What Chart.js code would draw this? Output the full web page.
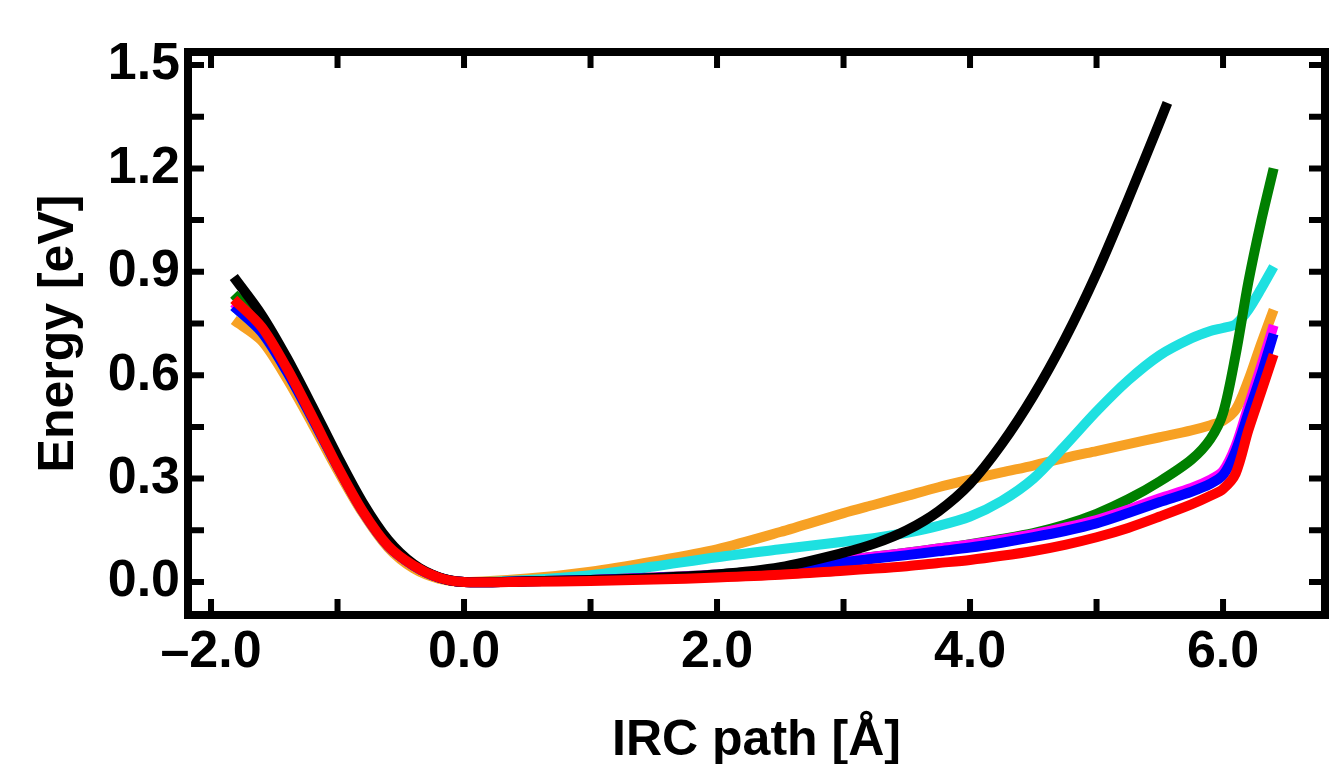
<!DOCTYPE html>
<html>
<head>
<meta charset="utf-8">
<title>IRC energy profile</title>
<script src="https://cdn.jsdelivr.net/npm/chart.js@4.4.1/dist/chart.umd.min.js"></script>
<style>
  body { margin: 0; background: #fff; }
  #wrap { width: 1330px; height: 764px; }
</style>
</head>
<body>
<div id="wrap"><canvas id="irc" width="1330" height="764"></canvas></div>
<script>
// IRC path positions [Å]
const ircX = [-1.82, -1.6, -1.4, -1.2, -1.0, -0.8, -0.6, -0.4, -0.2, 0,
  0.5, 1, 1.5, 2, 2.5, 3, 3.25, 3.5, 3.75, 4, 4.25, 4.5, 4.75, 5, 5.25, 5.5];
const tailX = [5.75, 5.9, 6.0, 6.1, 6.2, 6.3, 6.4];
const blackTailX = [5.56];

// energies [eV]
const redE = [0.82, 0.74, 0.62, 0.48, 0.335, 0.205, 0.105, 0.048, 0.013, 0,
  0.001, 0.003, 0.007, 0.013, 0.021, 0.033, 0.039, 0.046, 0.055, 0.064, 0.076, 0.09, 0.108, 0.13, 0.157, 0.19,
  0.225, 0.25, 0.27, 0.315, 0.44, 0.55, 0.66];
const blueE = [0.80, 0.725, 0.61, 0.475, 0.335, 0.205, 0.105, 0.048, 0.013, 0,
  0.002, 0.006, 0.012, 0.02, 0.035, 0.058, 0.068, 0.078, 0.089, 0.10, 0.114, 0.13, 0.148, 0.17, 0.2, 0.232,
  0.262, 0.285, 0.31, 0.38, 0.49, 0.6, 0.72];
const magentaE = [0.81, 0.73, 0.615, 0.478, 0.337, 0.206, 0.106, 0.048, 0.013, 0,
  0.002, 0.006, 0.013, 0.022, 0.038, 0.063, 0.074, 0.085, 0.097, 0.109, 0.123, 0.139, 0.158, 0.18, 0.21, 0.243,
  0.273, 0.297, 0.322, 0.395, 0.51, 0.625, 0.745];
const greenE = [0.835, 0.75, 0.625, 0.485, 0.342, 0.21, 0.108, 0.048, 0.013, 0,
  0.002, 0.006, 0.013, 0.022, 0.038, 0.063, 0.074, 0.085, 0.097, 0.11, 0.125, 0.142, 0.166, 0.198, 0.24, 0.292,
  0.355, 0.415, 0.49, 0.66, 0.87, 1.045, 1.2];
const cyanE = [0.80, 0.725, 0.61, 0.475, 0.335, 0.205, 0.105, 0.048, 0.013, 0,
  0.006, 0.02, 0.045, 0.072, 0.095, 0.117, 0.128, 0.143, 0.163, 0.19, 0.235, 0.30, 0.395, 0.495, 0.585, 0.658,
  0.707, 0.728, 0.737, 0.748, 0.79, 0.85, 0.915];
const orangeE = [0.76, 0.70, 0.59, 0.46, 0.325, 0.2, 0.1, 0.04, 0.01, 0,
  0.01, 0.03, 0.06, 0.095, 0.145, 0.2, 0.225, 0.25, 0.275, 0.297, 0.318, 0.338, 0.36, 0.38, 0.40, 0.42,
  0.44, 0.455, 0.468, 0.5, 0.585, 0.69, 0.79];
const blackE = [0.885, 0.775, 0.65, 0.51, 0.365, 0.23, 0.122, 0.052, 0.014, 0,
  0.002, 0.006, 0.012, 0.022, 0.043, 0.085, 0.112, 0.15, 0.205, 0.285, 0.40, 0.54, 0.705, 0.895, 1.11, 1.335,
  1.39];

// axis ticks
const xMajor = [-2, 0, 2, 4, 6];
const xLabels = ['\u20132.0', '0.0', '2.0', '4.0', '6.0'];
const xMinor = [-1, 1, 3, 5];
const yMajor = [0, 0.3, 0.6, 0.9, 1.2, 1.5];
const yLabels = ['0.0', '0.3', '0.6', '0.9', '1.2', '1.5'];
const yMinor = [0.15, 0.45, 0.75, 1.05, 1.35];

const FONT = "'Liberation Sans', Arial, Helvetica, sans-serif";

function pts(xs, es) {
    return xs.map((x, i) => ({ x: x, y: es[i] }));
}

const fullX = ircX.concat(tailX);

// first dataset is drawn on top
const series = [
    { color: '#ff0000', data: pts(fullX, redE) },
    { color: '#000000', data: pts(ircX.concat(blackTailX), blackE) },
    { color: '#0000ff', data: pts(fullX, blueE) },
    { color: '#ff00ff', data: pts(fullX, magentaE) },
    { color: '#008000', data: pts(fullX, greenE) },
    { color: '#1ee0e0', data: pts(fullX, cyanE) },
    { color: '#f7a124', data: pts(fullX, orangeE) }
];

// frame around the plot plus inward tick marks on all four sides
const framePlugin = {
    id: 'frame',
    afterDatasetsDraw(chart) {
        const { ctx, chartArea: a, scales: { x, y } } = chart;
        const len = 16;
        ctx.save();
        ctx.strokeStyle = '#000';
        ctx.lineWidth = 6;
        ctx.beginPath();
        x.ticks.forEach(t => {
            const px = x.getPixelForValue(t.value);
            ctx.moveTo(px, a.bottom); ctx.lineTo(px, a.bottom - len);
            ctx.moveTo(px, a.top); ctx.lineTo(px, a.top + len);
        });
        y.ticks.forEach(t => {
            const py = y.getPixelForValue(t.value);
            ctx.moveTo(a.left, py); ctx.lineTo(a.left + len, py);
            ctx.moveTo(a.right, py); ctx.lineTo(a.right - len, py);
        });
        ctx.stroke();
        ctx.lineWidth = 8;
        ctx.strokeRect(a.left, a.top, a.right - a.left, a.bottom - a.top);
        ctx.restore();
    }
};

new Chart(document.getElementById('irc'), {
    type: 'line',
    data: {
        datasets: series.map(s => ({
            data: s.data,
            borderColor: s.color,
            backgroundColor: s.color,
            fill: false
        }))
    },
    options: {
        responsive: false,
        animation: false,
        events: [],
        layout: { padding: { left: 0, right: 5, top: 52, bottom: 0 } },
        plugins: { legend: { display: false }, tooltip: { enabled: false } },
        elements: {
            point: { radius: 0 },
            line: { borderWidth: 10, tension: 0.3, borderCapStyle: 'butt', borderJoinStyle: 'round' }
        },
        scales: {
            x: {
                type: 'linear',
                min: -2.182,
                max: 6.806,
                grid: { display: false, drawTicks: false },
                border: { display: false },
                afterBuildTicks: s => {
                    s.ticks = xMajor.concat(xMinor).sort((a, b) => a - b).map(v => ({ value: v }));
                },
                afterFit: s => { s.height = 149; },
                ticks: {
                    autoSkip: false,
                    maxRotation: 0,
                    minRotation: 0,
                    padding: 6,
                    color: '#000',
                    font: { family: FONT, size: 52, weight: 'bold' },
                    callback: v => {
                        const i = xMajor.indexOf(v);
                        return i >= 0 ? xLabels[i] : '';
                    }
                },
                title: {
                    display: true,
                    text: 'IRC path [Å]',
                    color: '#000',
                    font: { family: FONT, size: 50, weight: 'bold', lineHeight: 0.8 },
                    padding: { top: 0, bottom: 3 }
                }
            },
            y: {
                type: 'linear',
                min: -0.0957,
                max: 1.5377,
                grid: { display: false, drawTicks: false },
                border: { display: false },
                afterBuildTicks: s => {
                    s.ticks = yMajor.concat(yMinor).sort((a, b) => a - b).map(v => ({ value: v }));
                },
                afterFit: s => { s.width = 188; },
                ticks: {
                    autoSkip: false,
                    padding: 8,
                    color: '#000',
                    font: { family: FONT, size: 52, weight: 'bold' },
                    callback: v => {
                        const i = yMajor.indexOf(v);
                        return i >= 0 ? yLabels[i] : '';
                    }
                },
                title: {
                    display: true,
                    text: 'Energy [eV]',
                    color: '#000',
                    font: { family: FONT, size: 50, weight: 'bold', lineHeight: 0.8 },
                    padding: { top: 39, bottom: 0 }
                }
            }
        }
    },
    plugins: [framePlugin]
});
</script>
</body>
</html>
